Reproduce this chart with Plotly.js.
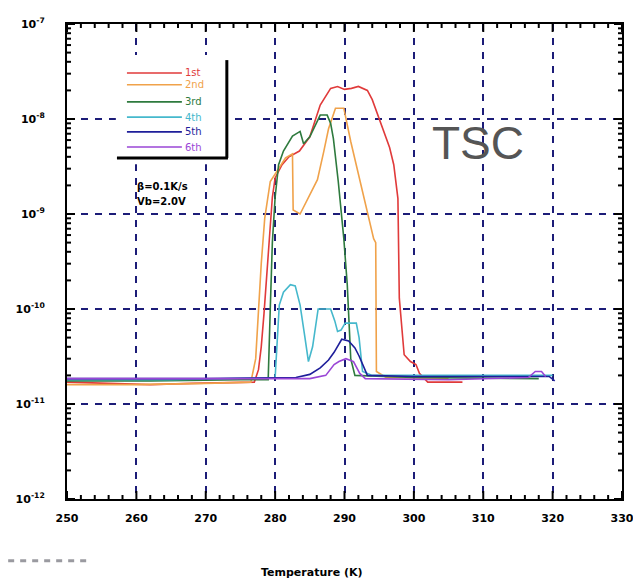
<!DOCTYPE html>
<html>
<head>
<meta charset="utf-8">
<script src="https://cdn.plot.ly/plotly-3.0.1.min.js"></script>
<style>html,body{margin:0;padding:0;background:#fff;}#chart{width:633px;height:581px;}</style>
</head>
<body>
<div id="chart"></div>
<script>
// Series names and colours
const seriesNames = ["1st", "2nd", "3rd", "4th", "5th", "6th"];
const seriesColors = ["#e03a3a", "#f0a24a", "#2e7a3e", "#45b8cc", "#1e1e9a", "#9a46d6"];

// Temperature (K) and current (A) for each heating run
const T1 = [250, 256, 262, 268, 277, 277.6, 278, 278.4, 278.8, 279.2, 279.6, 280, 281, 282, 283.5, 285, 286.5, 288, 289, 290, 291, 292, 293.3, 294, 294.8, 295.7, 296.5, 297.1, 297.7, 297.9, 298.6, 299.5, 300.3, 300.8, 302, 307];
const I1 = [1.7e-11, 1.65e-11, 1.6e-11, 1.65e-11, 1.7e-11, 2.3e-11, 4e-11, 9e-11, 2.5e-10, 7e-10, 1.5e-9, 2.4e-9, 3.3e-9, 4.0e-9, 4.6e-9, 6.5e-9, 1.4e-8, 2.1e-8, 2.2e-8, 2.05e-8, 2.1e-8, 2.2e-8, 2.0e-8, 1.6e-8, 1.1e-8, 7.4e-9, 5e-9, 3.3e-9, 1.45e-9, 1.3e-10, 3.3e-11, 2.8e-11, 2.6e-11, 2.1e-11, 1.7e-11, 1.7e-11];

const T2 = [250, 260, 270, 276.5, 277.2, 277.6, 278, 278.5, 279.3, 280.5, 281.5, 282.5, 282.6, 283.6, 284.8, 286.1, 287, 287.7, 288.7, 289.9, 290.9, 292, 293, 294.2, 294.5, 294.6, 296, 305];
const I2 = [1.6e-11, 1.6e-11, 1.65e-11, 1.7e-11, 3e-11, 1e-10, 3e-10, 9e-10, 2.2e-9, 3.0e-9, 3.9e-9, 4.3e-9, 1.1e-9, 1.0e-9, 1.5e-9, 2.3e-9, 4.5e-9, 7.9e-9, 1.3e-8, 1.3e-8, 5.8e-9, 2.6e-9, 1.26e-9, 5.5e-10, 5e-10, 2.2e-11, 1.9e-11, 1.85e-11];

const T3 = [250, 262, 275, 279, 279.3, 279.6, 280, 280.5, 281.2, 282.5, 283.6, 284.1, 285, 286.5, 287.5, 288, 288.4, 289.1, 289.9, 290.4, 290.9, 291.5, 300, 318];
const I3 = [1.75e-11, 1.75e-11, 1.8e-11, 1.8e-11, 1e-10, 5e-10, 1.5e-9, 3.3e-9, 4.6e-9, 6.6e-9, 7.4e-9, 5.5e-9, 6.5e-9, 1.1e-8, 1.1e-8, 9e-9, 6.2e-9, 2.2e-9, 5.5e-10, 1.8e-10, 3e-11, 2e-11, 1.9e-11, 1.85e-11];

const T4 = [250, 265, 280.0, 280.3, 280.6, 281.2, 282.2, 282.9, 283.6, 284.3, 284.8, 285.4, 286.2, 287, 288, 288.6, 289, 289.5, 290.1, 291.7, 292.1, 292.6, 294, 320];
const I4 = [1.8e-11, 1.8e-11, 1.9e-11, 4e-11, 1.1e-10, 1.5e-10, 1.8e-10, 1.75e-10, 1.1e-10, 5e-11, 2.8e-11, 4e-11, 1.0e-10, 1.0e-10, 1.0e-10, 7.5e-11, 5.8e-11, 6e-11, 7.1e-11, 7.1e-11, 5e-11, 2.2e-11, 2e-11, 2e-11];

const T5 = [250, 270, 283, 285, 286.5, 287.7, 288.5, 289.1, 289.6, 290.6, 291.5, 292.1, 292.6, 293.3, 300, 310, 319.5, 320.3];
const I5 = [1.85e-11, 1.85e-11, 1.9e-11, 2.05e-11, 2.4e-11, 2.9e-11, 3.5e-11, 4.2e-11, 4.8e-11, 4.6e-11, 3.9e-11, 3.2e-11, 2.6e-11, 2.0e-11, 1.95e-11, 1.95e-11, 1.95e-11, 1.75e-11];

const T6 = [250, 270, 285, 287.3, 288.5, 289.2, 290.2, 291.3, 292.2, 293, 305, 316.5, 317.5, 318.4, 319];
const I6 = [1.85e-11, 1.85e-11, 1.85e-11, 2e-11, 2.6e-11, 2.8e-11, 3e-11, 2.8e-11, 2.1e-11, 1.85e-11, 1.8e-11, 1.9e-11, 2.2e-11, 2.2e-11, 1.95e-11];

// Axis ticks
const xTickVals = [250, 260, 270, 280, 290, 300, 310, 320, 330];
const xTickText = ["250", "260", "270", "280", "290", "300", "310", "320", "330"];
const yTickVals = [1e-12, 1e-11, 1e-10, 1e-9, 1e-8, 1e-7];
const yTickText = ["10<sup>-12</sup>", "10<sup>-11</sup>", "10<sup>-10</sup>", "10<sup>-9</sup>", "10<sup>-8</sup>", "10<sup>-7</sup>"];

// minor tick positions (every 2 K; 2..9 within each decade)
const xMinor = [];
for (let t = 252; t < 330; t += 2) if (t % 10 !== 0) xMinor.push(t);
const yMinor = [];
for (let e = -12; e < -7; e++) for (let m = 2; m <= 9; m++) yMinor.push(m * Math.pow(10, e));

const xs = [T1, T2, T3, T4, T5, T6];
const ys = [I1, I2, I3, I4, I5, I6];

const traces = xs.map((x, i) => ({
  x: x, y: ys[i], type: "scatter", mode: "lines", name: seriesNames[i],
  line: {color: seriesColors[i], width: 1.6}, showlegend: false
}));

const plotW = 555, plotH = 475;
const gridC = "#1c1c78";
const shapes = [
  {type: "rect", xref: "paper", yref: "paper", x0: 0.088, x1: 0.296, y0: 0.705, y1: 0.935, fillcolor: "#ffffff", line: {width: 0}, layer: "above"},
  {type: "line", xref: "paper", yref: "paper", x0: 0.288, x1: 0.288, y0: 0.924, y1: 0.718, line: {color: "#000", width: 3}, layer: "above"},
  {type: "line", xref: "paper", yref: "paper", x0: 0.090, x1: 0.290, y0: 0.718, y1: 0.718, line: {color: "#000", width: 3}, layer: "above"},
  {type: "line", xref: "paper", yref: "paper", x0: -0.106, x1: 0.045, y0: -0.13, y1: -0.13, line: {color: "#9a9aa0", width: 3, dash: "6px,6px"}}
];
// inside tick marks on all four sides (tied to the x axis scale / paper fractions of the log axis)
function xTick(v, len) {
  const h = len / plotH;
  shapes.push({type: "line", xref: "x", yref: "paper", x0: v, x1: v, y0: 0, y1: h, line: {color: "#000", width: 2}, layer: "above"});
  shapes.push({type: "line", xref: "x", yref: "paper", x0: v, x1: v, y0: 1 - h, y1: 1, line: {color: "#000", width: 2}, layer: "above"});
}
function yTick(v, len) {
  const w = len / plotW, p = (Math.log10(v) + 12) / 5;
  shapes.push({type: "line", xref: "paper", yref: "paper", x0: 0, x1: w, y0: p, y1: p, line: {color: "#000", width: 2}, layer: "above"});
  shapes.push({type: "line", xref: "paper", yref: "paper", x0: 1 - w, x1: 1, y0: p, y1: p, line: {color: "#000", width: 2}, layer: "above"});
}
xTickVals.forEach(v => xTick(v, 8));
xMinor.forEach(v => xTick(v, 4));
yTickVals.forEach(v => yTick(v, 8));
yMinor.forEach(v => yTick(v, 4));

const legYs = [0.897, 0.872, 0.836, 0.804, 0.773, 0.741];
const annotations = [];
seriesNames.forEach((n, i) => {
  shapes.push({type: "line", xref: "paper", yref: "paper", x0: 0.108, x1: 0.207, y0: legYs[i], y1: legYs[i], line: {color: seriesColors[i], width: 1.6}, layer: "above"});
  annotations.push({xref: "paper", yref: "paper", x: 0.209, y: legYs[i], xanchor: "left", yanchor: "middle", text: n, showarrow: false, font: {family: "DejaVu Sans", size: 10, color: seriesColors[i]}});
});
annotations.push(
  {xref: "paper", yref: "paper", x: 0.122, y: 0.657, xanchor: "left", yanchor: "middle", text: "<b>β=0.1K/s</b>", showarrow: false, font: {family: "DejaVu Sans", size: 10, color: "#000"}},
  {xref: "paper", yref: "paper", x: 0.122, y: 0.627, xanchor: "left", yanchor: "middle", text: "<b>Vb=2.0V</b>", showarrow: false, font: {family: "DejaVu Sans", size: 10, color: "#000"}},
  {xref: "paper", yref: "paper", x: 0.74, y: 0.749, xanchor: "center", yanchor: "middle", text: "TSC", showarrow: false, font: {family: "Liberation Sans", size: 46, color: "#555"}},
  {xref: "paper", yref: "paper", x: 0.441, y: -0.154, xanchor: "center", yanchor: "middle", text: "<b>Temperature (K)</b>", showarrow: false, font: {family: "DejaVu Sans", size: 11, color: "#000"}}
);

const layout = {
  width: 633, height: 581,
  margin: {l: 67, r: 11, t: 24, b: 82},
  paper_bgcolor: "#fff", plot_bgcolor: "#fff",
  showlegend: false,
  xaxis: {
    range: [250, 330], tickmode: "array", tickvals: xTickVals, ticktext: xTickText,
    ticks: "", showline: true, linecolor: "#000", linewidth: 2, mirror: true,
    showgrid: true, gridcolor: gridC, gridwidth: 2, griddash: "7px,7px",
    zeroline: false, ticklabelstandoff: 8, ticklabeloverflow: "allow",
    tickfont: {family: "DejaVu Sans", size: 11, color: "#000", weight: "bold"}
  },
  yaxis: {
    type: "log", range: [-12, -7], tickmode: "array", tickvals: yTickVals, ticktext: yTickText,
    ticks: "", showline: true, linecolor: "#000", linewidth: 2, mirror: true,
    showgrid: true, gridcolor: gridC, gridwidth: 2, griddash: "7px,7px",
    zeroline: false, ticklabelstandoff: 18, ticklabeloverflow: "allow",
    tickfont: {family: "DejaVu Sans", size: 11, color: "#000", weight: "bold"}
  },
  shapes: shapes,
  annotations: annotations
};

Plotly.newPlot("chart", traces, layout, {displayModeBar: false, staticPlot: true});
</script>
</body>
</html>
